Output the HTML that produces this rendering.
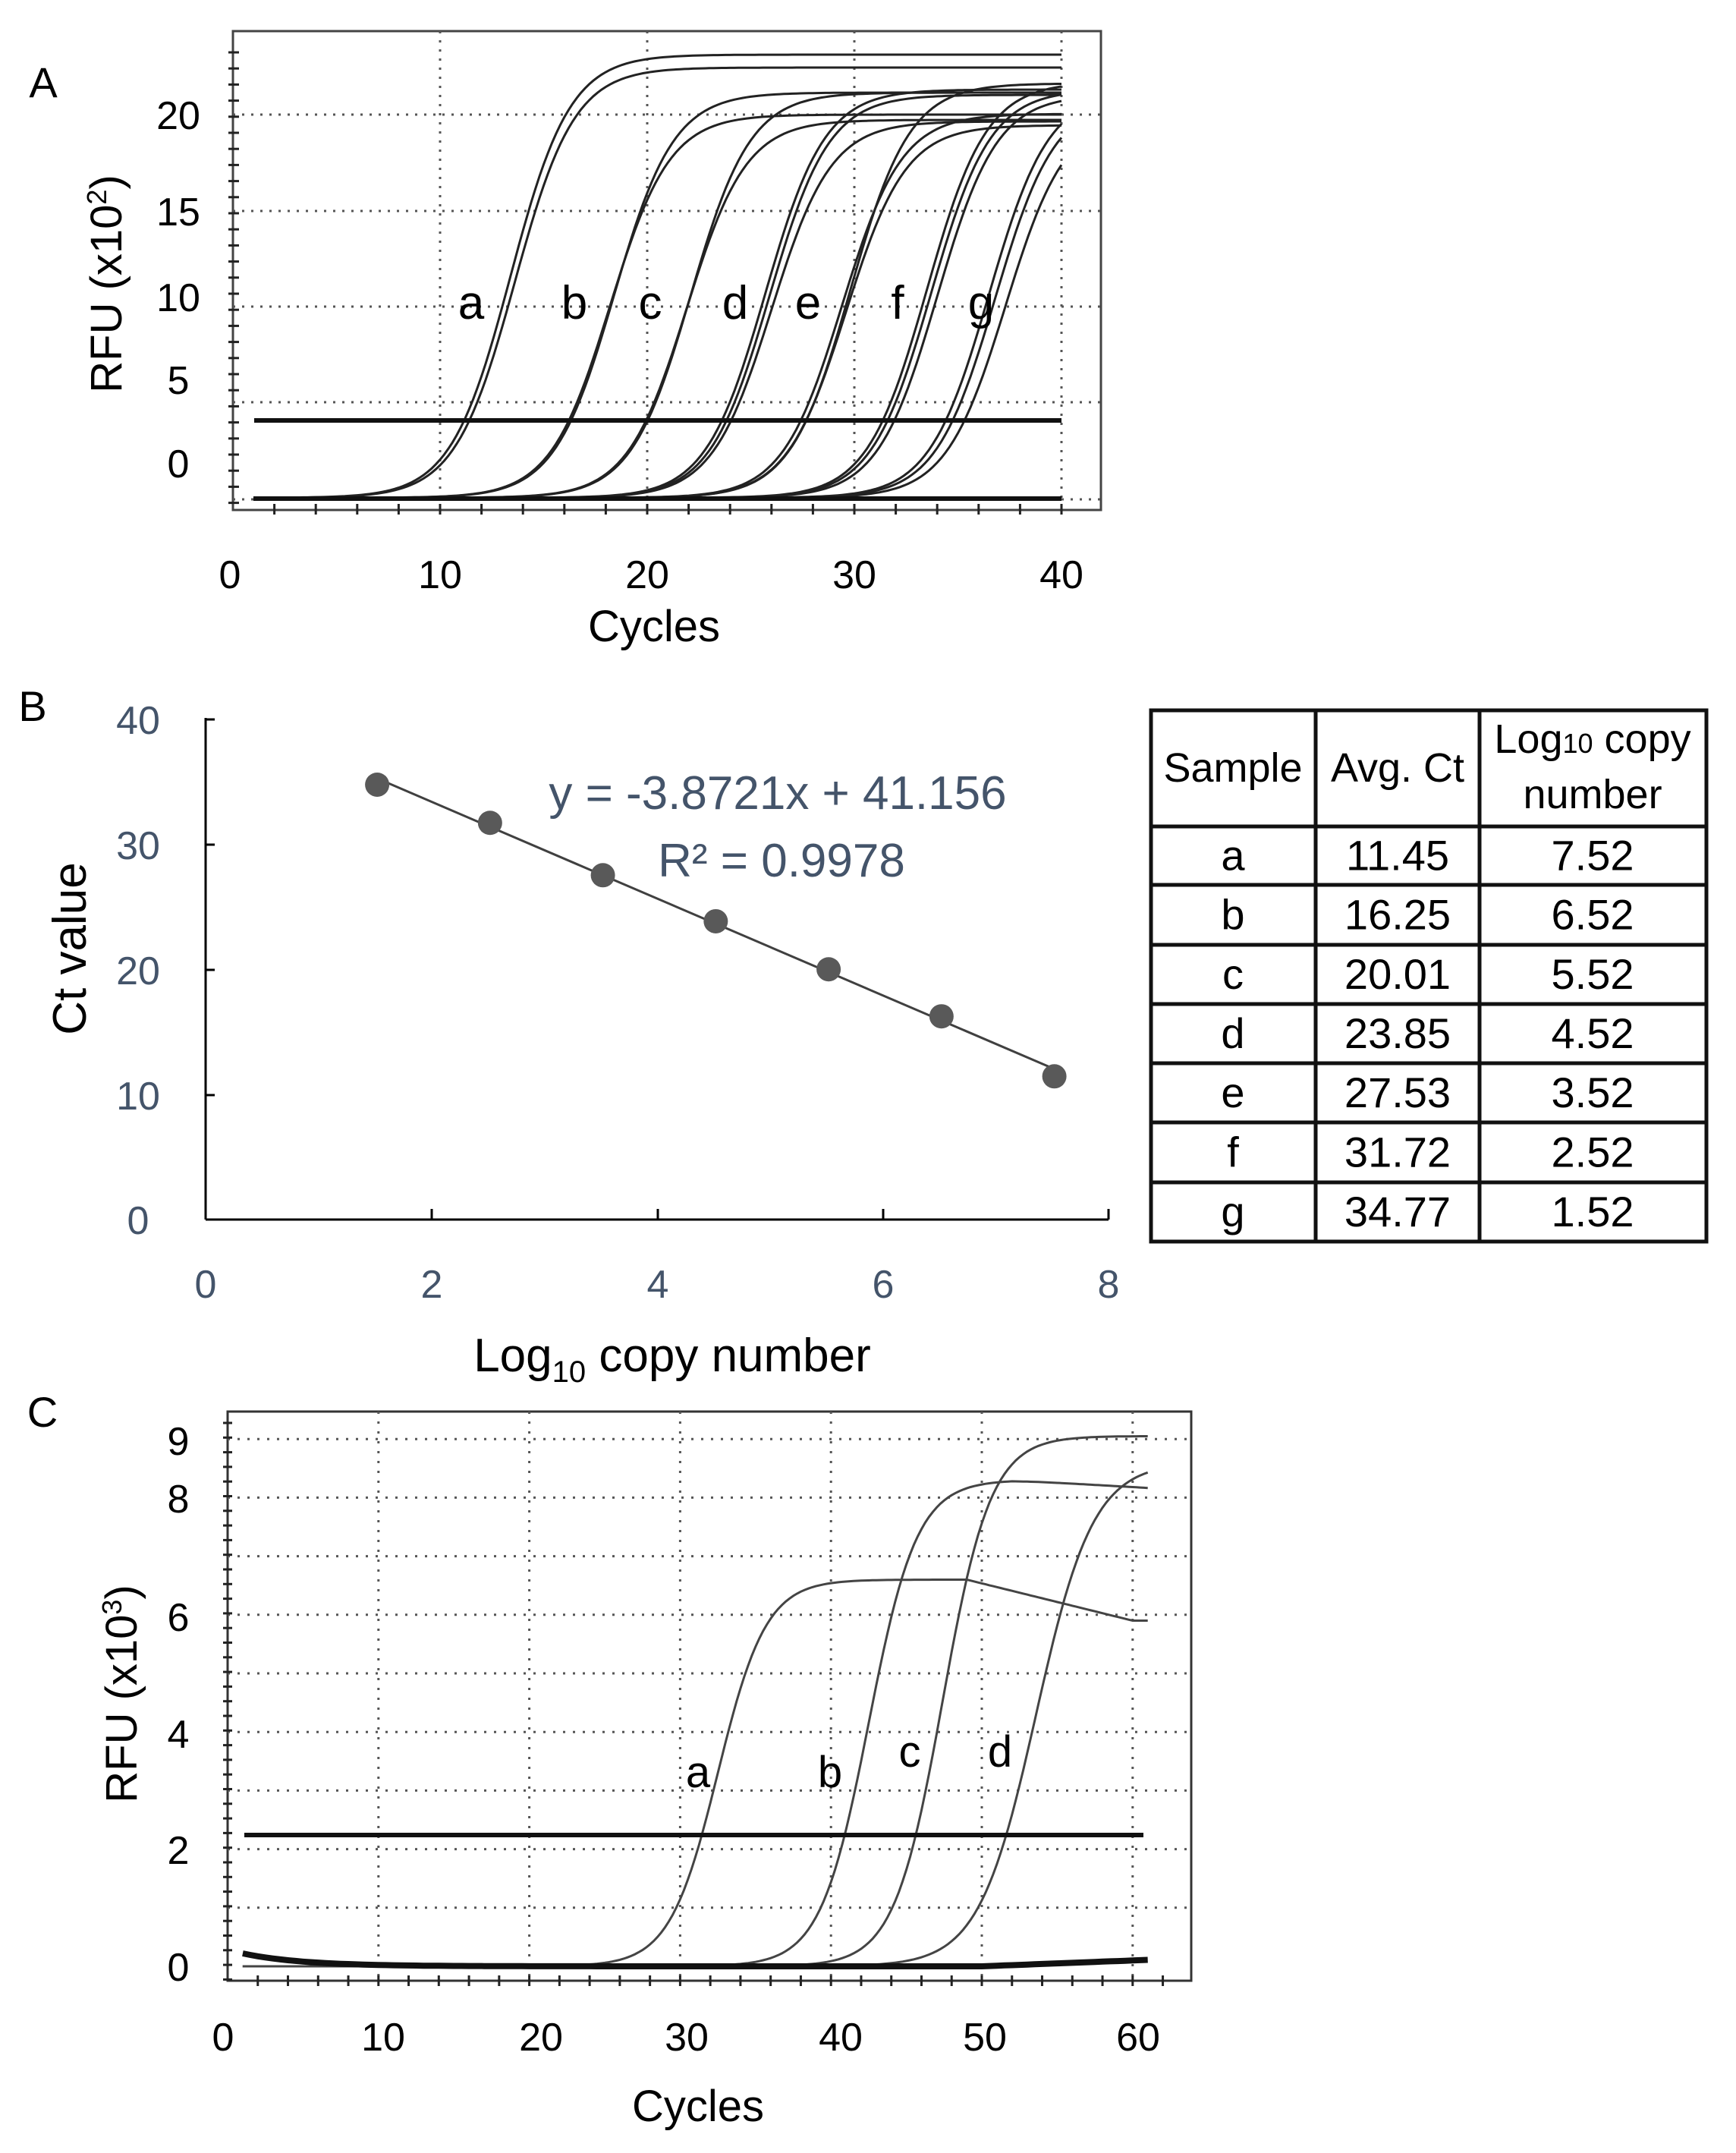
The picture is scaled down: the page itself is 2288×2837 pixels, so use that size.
<!DOCTYPE html>
<html><head><meta charset="utf-8"><style>
html,body{margin:0;padding:0;background:#fff;}
svg{display:block;}
text{font-family:"Liberation Sans",sans-serif;}
</style></head><body>
<svg id="s" width="2288" height="2837" viewBox="0 0 2288 2837" xmlns="http://www.w3.org/2000/svg">
<rect width="2288" height="2837" fill="#fff"/>
<!-- Panel A -->
<text x="57" y="128" font-size="56" text-anchor="middle">A</text>
<rect x="307" y="41" width="1144" height="631" fill="none" stroke="#444" stroke-width="3"/>
<g id="gA" stroke="#555" stroke-width="3" stroke-dasharray="3,9" fill="none">
<line x1="307" y1="151" x2="1451" y2="151"/><line x1="307" y1="278" x2="1451" y2="278"/>
<line x1="307" y1="404" x2="1451" y2="404"/><line x1="307" y1="530" x2="1451" y2="530"/>
<line x1="307" y1="658" x2="1451" y2="658"/>
<line x1="580" y1="41" x2="580" y2="672"/><line x1="853" y1="41" x2="853" y2="672"/>
<line x1="1126" y1="41" x2="1126" y2="672"/><line x1="1399" y1="41" x2="1399" y2="672"/>
</g>
<g id="tA" stroke="#222" stroke-width="3"></g>
<g font-size="52" text-anchor="middle">
<text x="235" y="170">20</text><text x="235" y="297">15</text><text x="235" y="410">10</text>
<text x="235" y="519">5</text><text x="235" y="629">0</text>
<text x="303" y="775">0</text><text x="580" y="775">10</text><text x="853" y="775">20</text>
<text x="1126" y="775">30</text><text x="1399" y="775">40</text>
</g>
<text x="862" y="845" font-size="58" text-anchor="middle">Cycles</text>
<text transform="translate(160,374) rotate(-90)" font-size="58" text-anchor="middle">RFU (x10<tspan font-size="36" dy="-20">2</tspan><tspan dy="20">)</tspan></text>
<g id="cA" fill="none" stroke="#222" stroke-width="3"></g>
<line x1="335" y1="554" x2="1399" y2="554" stroke="#111" stroke-width="6"/>
<line x1="334" y1="657" x2="1399" y2="657" stroke="#111" stroke-width="6"/>
<g font-size="62" text-anchor="middle">
<text x="621" y="420">a</text><text x="757" y="420">b</text><text x="857" y="420">c</text>
<text x="969" y="420">d</text><text x="1065" y="420">e</text><text x="1183" y="420">f</text><text x="1293" y="420">g</text>
</g>

<!-- Panel B -->
<text x="43" y="950" font-size="56" text-anchor="middle">B</text>
<g stroke="#000" stroke-width="3">
<line x1="271" y1="946" x2="271" y2="1607"/><line x1="271" y1="1607" x2="1461" y2="1607"/>
<line x1="271" y1="948" x2="283" y2="948"/><line x1="271" y1="1113" x2="283" y2="1113"/>
<line x1="271" y1="1278" x2="283" y2="1278"/><line x1="271" y1="1443" x2="283" y2="1443"/>
<line x1="569" y1="1607" x2="569" y2="1593"/><line x1="867" y1="1607" x2="867" y2="1593"/>
<line x1="1164" y1="1607" x2="1164" y2="1593"/><line x1="1461" y1="1607" x2="1461" y2="1593"/>
</g>
<g font-size="52" fill="#44546a" text-anchor="middle">
<text x="182" y="967">40</text><text x="182" y="1132">30</text><text x="182" y="1297">20</text>
<text x="182" y="1462">10</text><text x="182" y="1626">0</text>
<text x="271" y="1710">0</text><text x="569" y="1710">2</text><text x="867" y="1710">4</text>
<text x="1164" y="1710">6</text><text x="1461" y="1710">8</text>
</g>
<text transform="translate(113,1250) rotate(-90)" font-size="62" text-anchor="middle">Ct value</text>
<text x="886" y="1807" font-size="62" text-anchor="middle">Log<tspan font-size="40" dy="14">10</tspan><tspan dy="-14"> copy number</tspan></text>
<g id="pB"></g>
<g font-size="62" fill="#44546a" text-anchor="middle">
<text x="1025" y="1066">y = -3.8721x + 41.156</text>
<text x="1030" y="1155">R² = 0.9978</text>
</g>

<!-- Table -->
<g stroke="#111" stroke-width="5" fill="none">
<rect x="1517" y="936" width="732" height="700"/>
<line x1="1734" y1="936" x2="1734" y2="1636"/><line x1="1950" y1="936" x2="1950" y2="1636"/>
<line x1="1517" y1="1089" x2="2249" y2="1089"/><line x1="1517" y1="1166" x2="2249" y2="1166"/>
<line x1="1517" y1="1245" x2="2249" y2="1245"/><line x1="1517" y1="1323" x2="2249" y2="1323"/>
<line x1="1517" y1="1401" x2="2249" y2="1401"/><line x1="1517" y1="1479" x2="2249" y2="1479"/>
<line x1="1517" y1="1558" x2="2249" y2="1558"/>
</g>
<g font-size="54" text-anchor="middle" style="font-family:'Liberation Serif',serif">
<text x="1625" y="1030">Sample</text><text x="1842" y="1030">Avg. Ct</text>
<text x="2099" y="992">Log<tspan font-size="36">10</tspan> copy</text><text x="2099" y="1065">number</text>
</g>
<g id="tb" font-size="56" text-anchor="middle" style="font-family:'Liberation Serif',serif"></g>

<!-- Panel C -->
<text x="56" y="1880" font-size="56" text-anchor="middle">C</text>
<rect x="300" y="1860" width="1270" height="750" fill="none" stroke="#333" stroke-width="3"/>
<g id="gC" stroke="#555" stroke-width="3" stroke-dasharray="3,10" fill="none"></g>
<g id="tC" stroke="#222" stroke-width="3"></g>
<g font-size="52" text-anchor="middle">
<text x="235" y="1917">9</text><text x="235" y="1993">8</text><text x="235" y="2149">6</text>
<text x="235" y="2303">4</text><text x="235" y="2456">2</text><text x="235" y="2610">0</text>
<text x="294" y="2702">0</text><text x="505" y="2702">10</text><text x="713" y="2702">20</text>
<text x="905" y="2702">30</text><text x="1108" y="2702">40</text><text x="1298" y="2702">50</text><text x="1500" y="2702">60</text>
</g>
<text x="920" y="2795" font-size="58" text-anchor="middle">Cycles</text>
<text transform="translate(180,2232) rotate(-90)" font-size="58" text-anchor="middle">RFU (x10<tspan font-size="36" dy="-20">3</tspan><tspan dy="20">)</tspan></text>
<g id="cC" fill="none" stroke="#444" stroke-width="3"></g>
<line x1="322" y1="2418" x2="1507" y2="2418" stroke="#111" stroke-width="6"/>
<g font-size="58" text-anchor="middle">
<text x="920" y="2355">a</text><text x="1094" y="2355">b</text><text x="1199" y="2328">c</text><text x="1318" y="2328">d</text>
</g>
</svg>
<script>
var NS="http://www.w3.org/2000/svg";
function el(p,t,a,txt){var e=document.createElementNS(NS,t);for(var k in a)e.setAttribute(k,a[k]);if(txt!==undefined)e.textContent=txt;document.getElementById(p).appendChild(e);return e;}
var ax=function(c){return 307+c*27.3;};
for(var y=69;y<672;y+=21.2)el("tA","line",{x1:301,y1:y,x2:315,y2:y});
for(var c=2;c<=40;c+=2)el("tA","line",{x1:ax(c),y1:664,x2:ax(c),y2:678});
var A=[[11.4,72],[11.6,89],[16.2,151],[16.4,122],[19.9,158],[20.1,122],[23.7,118],[23.9,125],[24.0,160],[27.4,150],[27.6,165],[27.8,110],[31.5,108],[31.7,118],[32.0,125],[34.5,120],[34.8,130],[35.3,150]];
A.forEach(function(p){var ct=p[0],pl=p[1],base=656,s=1.44,mid=ct+2.0,d="";
for(var c=1;c<=40.001;c+=0.2){var v=base-(base-pl)/(1+Math.exp(-(c-mid)/s));d+=(d?"L":"M")+ax(c).toFixed(1)+" "+v.toFixed(1);}
el("cA","path",{d:d});});
var bx=function(v){return 271+v*148.75;},by=function(v){return 1607-v*16.48;};
el("pB","line",{x1:bx(1.52),y1:by(41.156-3.8721*1.52),x2:bx(7.52),y2:by(41.156-3.8721*7.52),stroke:"#404040","stroke-width":3});
var T=[["a","11.45","7.52"],["b","16.25","6.52"],["c","20.01","5.52"],["d","23.85","4.52"],["e","27.53","3.52"],["f","31.72","2.52"],["g","34.77","1.52"]];
T.forEach(function(r){el("pB","circle",{cx:bx(+r[2]),cy:by(+r[1]),r:16,fill:"#595959"});});
var rows=[1089,1166,1245,1323,1401,1479,1558,1636];
T.forEach(function(r,i){var yy=(rows[i]+rows[i+1])/2+19;
el("tb","text",{x:1625,y:yy},r[0]);el("tb","text",{x:1842,y:yy},r[1]);el("tb","text",{x:2099,y:yy},r[2]);});
var cx=function(c){return 300+c*19.88;},cy=function(v){return 2591-v*77.2;};
for(var v=1;v<=9;v++)el("gC","line",{x1:300,y1:cy(v),x2:1570,y2:cy(v)});
for(var c=10;c<=60;c+=10)el("gC","line",{x1:cx(c),y1:1860,x2:cx(c),y2:2610});
for(var y=1875;y<2610;y+=19.3)el("tC","line",{x1:294,y1:y,x2:306,y2:y});
for(var c=2;c<=62;c+=2)el("tC","line",{x1:cx(c),y1:2603,x2:cx(c),y2:2617});
var C=[[6.6,32.5,1.6,1],[8.3,42.5,1.6,2],[9.05,47.4,1.6,0],[8.6,53.6,1.9,0]];
C.forEach(function(p){var d="";for(var c=1;c<=61.001;c+=0.25){var v=p[0]/(1+Math.exp(-(c-p[1])/p[2]));
if(p[3]==1&&c>49){v-=0.7*Math.min(1,(c-49)/11);} if(p[3]==2&&c>52){v-=0.12*(c-52)/8;}
d+=(d?"L":"M")+cx(c).toFixed(1)+" "+cy(v).toFixed(1);}el("cC","path",{d:d});});
var d="";for(var c=1;c<=61;c+=0.5){var v=0.22*Math.exp(-(c-1)/4)+(c>50?0.1*(c-50)/10:0);d+=(d?"L":"M")+cx(c).toFixed(1)+" "+cy(v).toFixed(1);}
el("cC","path",{d:d,"stroke-width":8,stroke:"#111"});
</script>
</body></html>
